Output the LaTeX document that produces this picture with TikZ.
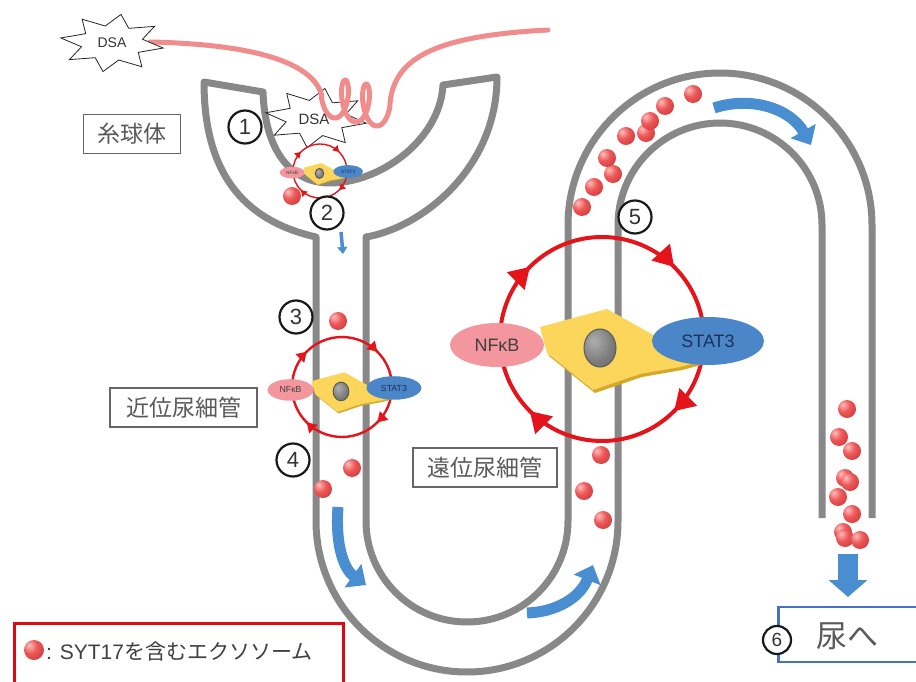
\documentclass[tikz,border=0pt]{standalone}
\usepackage{fontspec}
\setmainfont{Liberation Sans}
\newfontfamily\jpfont{Noto Sans CJK JP}
\usetikzlibrary{arrows.meta,decorations.markings,shapes.geometric}

\definecolor{tubegray}{RGB}{136,136,136}
\definecolor{vesselpink}{RGB}{240,140,140}
\definecolor{ringred}{RGB}{228,20,26}
\definecolor{flowblue}{RGB}{72,142,208}
\definecolor{cellyellow}{RGB}{252,214,90}
\definecolor{celledge}{RGB}{214,168,40}
\definecolor{nfpink}{RGB}{243,150,158}
\definecolor{statblue}{RGB}{74,134,200}
\definecolor{statink}{RGB}{30,50,85}
\definecolor{labelgray}{RGB}{90,90,90}
\definecolor{exohi}{RGB}{255,190,190}
\definecolor{exored}{RGB}{236,88,88}
\definecolor{exodark}{RGB}{196,42,42}
\definecolor{nuchi}{RGB}{175,175,175}
\definecolor{nucmid}{RGB}{125,125,125}
\definecolor{nucdark}{RGB}{85,85,85}
\definecolor{boxblue}{RGB}{68,114,196}
\definecolor{legendred}{RGB}{220,10,20}

% shaded spheres for exosomes and nuclei
\pgfdeclareradialshading{exoball}{\pgfpoint{-12bp}{12bp}}{%
  color(0bp)=(exohi); color(18bp)=(exored); color(48bp)=(exodark); color(100bp)=(exodark)}
\pgfdeclareradialshading{nucball}{\pgfpoint{-10bp}{10bp}}{%
  color(0bp)=(nuchi); color(25bp)=(nucmid); color(55bp)=(nucdark); color(100bp)=(nucdark)}

\newcommand\setfs[1]{\fontsize{#1}{#1}\selectfont}

% A cell wrapped in its red feedback ring (ring runs clockwise):
% #1 name prefix, #2 centre, #3 scale, #4 ring width, #5 tip scale
\newcommand\cellring[5]{%
  \begin{scope}[shift={#2}, scale=#3, transform shape]
    \draw[ringline, line width=#4, postaction={decorate, decoration={markings,
        mark=at position 0.125 with {\arrow[ringred]{Triangle[width=24pt,length=20pt,scale=#5]}},
        mark=at position 0.375 with {\arrow[ringred]{Triangle[width=24pt,length=20pt,scale=#5]}},
        mark=at position 0.625 with {\arrow[ringred]{Triangle[width=24pt,length=20pt,scale=#5]}},
        mark=at position 0.875 with {\arrow[ringred]{Triangle[width=24pt,length=20pt,scale=#5]}}}}]
      (102,0) .. controls (102,56.3) and (56.3,102) .. (0,102)
      .. controls (-56.3,102) and (-102,56.3) .. (-102,0)
      .. controls (-102,-56.3) and (-56.3,-102) .. (0,-102)
      .. controls (56.3,-102) and (102,-56.3) .. (102,0) -- cycle;
    \fill[celledge] (-60,-9) -- (7,-27) -- (57,1) -- (107,24) -- (80,31)
      -- (40,38) -- (-7,54) -- (-53,17) -- cycle;
    \fill[cellyellow] (-62,-12) -- (5,-30) -- (55,-2) -- (105,21) -- (78,28)
      -- (38,35) -- (-9,51) -- (-55,14) -- cycle;
    \node[nucleus] (#1nuc) at (-2,9) {};
    \node[nfbox] (#1nf) at (-105,6) {NFκB};
    \node[statbox] (#1st) at (106,2) {STAT3};
  \end{scope}}

\begin{document}
\begin{tikzpicture}[x=1pt, y=-1pt,
  tube/.style={draw=tubegray, line width=7pt, line join=round},
  vessel/.style={draw=vesselpink, line width=5pt, line cap=round, line join=round},
  burst/.style={draw=black!85, line width=0.8pt, fill=white, line join=miter},
  dsatext/.style={font=\setfs{14}, text=black!80},
  numcirc/.style={circle, draw=black!90, line width=2.2pt, fill=white,
    minimum size=33pt, inner sep=0pt, font=\setfs{22}, text=black!80},
  labelbox/.style={draw=black!60, line width=1.5pt, fill=white, text=labelgray,
    font=\jpfont\setfs{23}, minimum height=39pt, inner sep=0pt},
  exo/.style={circle, shading=exoball, minimum size=18pt, inner sep=0pt},
  flow/.style={draw=flowblue, line width=11pt, -{Triangle[width=28pt,length=16pt]}},
  ringline/.style={draw=ringred},
  nucleus/.style={ellipse, minimum width=32pt, minimum height=38pt, inner sep=0pt,
    shading=nucball, draw=black!65, line width=1pt},
  nfbox/.style={ellipse, minimum width=94pt, minimum height=44pt, inner sep=0pt,
    fill=nfpink, text=black!75, font=\setfs{18}},
  statbox/.style={ellipse, minimum width=112pt, minimum height=48pt, inner sep=0pt,
    fill=statblue, text=statink, font=\setfs{18}},
]
\fill[white] (0,0) rectangle (916,682);
\useasboundingbox (0,0) rectangle (916,682);

% nephron outline: glomerular cup, proximal tubule, loop, distal tubule, collecting duct
\draw[tube] (822,518) -- (822,225)
  .. controls (822,168.7) and (776.3,123) .. (720,123)
  .. controls (663.7,123) and (618,168.7) .. (618,225)
  -- (618,521)
  .. controls (618,604.4) and (550.4,672) .. (467,672)
  .. controls (383.6,672) and (316,604.4) .. (316,521)
  -- (316,237)
  .. controls (250,222) and (204,180) .. (204,82)
  -- (263,92)
  .. controls (265,150) and (290,183) .. (330,183)
  .. controls (380,183) and (440,140) .. (443,85)
  -- (497,77)
  .. controls (497,170) and (420,228) .. (366,237)
  -- (366,521)
  .. controls (366,576.8) and (411.2,622) .. (467,622)
  .. controls (522.8,622) and (568,576.8) .. (568,521)
  -- (568,225)
  .. controls (568,141.1) and (636.1,73) .. (720,73)
  .. controls (803.9,73) and (872,141.1) .. (872,225)
  -- (872,518);

% region labels
\node[labelbox, minimum width=97pt] (glom) at (132,134) {糸球体};
\node[labelbox, minimum width=147pt] (prox) at (183.5,407.5) {近位尿細管};
\node[labelbox, minimum width=144pt] (dist) at (485,467.5) {遠位尿細管};

% antibody inside the glomerulus
\draw[burst] plot[samples at={0,22.5,...,337.5}]
  ({316+51*(0.8+0.2*cos(8*\x))*cos(\x+10)}, {118+30*(0.8+0.2*cos(8*\x))*sin(\x+10)}) -- cycle;

% glomerular capillary with its tangle
\draw[vessel] (150,42) .. controls (240,44) and (312,58) .. (322,96)
  -- plot[domain=0.25:2.75, samples=140, smooth]
     ({324+21*\x-8*sin(360*\x)}, {96-20*cos(360*\x)+4*\x})
  .. controls (392,60) and (430,36) .. (548,30);
\node[dsatext, font=\setfs{15}] (dsaB) at (314,119) {DSA};

% circulating antibody
\draw[burst] plot[samples at={0,22.5,...,337.5}]
  ({112+52*(0.8+0.2*cos(8*\x))*cos(\x+10)}, {43+29*(0.8+0.2*cos(8*\x))*sin(\x+10)}) -- cycle;
\node[dsatext] (dsaA) at (112,43) {DSA};

% activated cells with NFkB / STAT3 loop
\cellring{glc}{(320,171)}{0.265}{1.4pt}{0.3}
\cellring{ptc}{(342,387)}{0.49}{2.4pt}{0.48}
\cellring{dtc}{(602,339)}{1}{4pt}{1}

% exosomes
\foreach \p [count=\i] in {(292,196),(338,321),(352,468),(323,489),
    (601,455),(584,491),(603,520),
    (582,207),(594,187),(613,174),(607,158),(626,136),(646,133),(650,121),(665,106),(693,94),
    (847,409),(839,437),(852,451),(845,478),(850,482),(838,497),(852,514),(843,532),(845,538),(860,540)}
  \node[exo] (ball\i) at \p {};

% flow direction
\coordinate (fA0) at (338,507); \coordinate (fA1) at (366,585);
\coordinate (fB0) at (527,613); \coordinate (fB1) at (593,565);
\coordinate (fC0) at (714,108); \coordinate (fC1) at (811,145);
\coordinate (fD0) at (341,232); \coordinate (fD1) at (343,254);
\coordinate (fE0) at (848,554); \coordinate (fE1) at (848,597);
\draw[flow] (fA0) .. controls (335,548) and (345,570) .. (fA1);
\draw[flow] (fB0) .. controls (556,612) and (580,598) .. (fB1);
\draw[flow] (fC0) .. controls (750,96) and (790,108) .. (fC1);
\draw[flow, line width=3.5pt, -{Triangle[width=10pt,length=7pt]}] (fD0) -- (fD1);
\draw[flow, line width=20pt, -{Triangle[width=38pt,length=17pt]}] (fE0) -- (fE1);

% urine box
\node[draw=boxblue, line width=2.5pt, minimum width=170pt, minimum height=55pt,
  anchor=west, inner sep=0pt] (urinebox) at (777,634.5) {};
\node[font=\jpfont\setfs{31}, text=labelgray] (urine) at (847,636) {尿へ};

% step numbers
\node[numcirc] (n1) at (245,127) {1};
\node[numcirc] (n2) at (327,213) {2};
\node[numcirc] (n3) at (296,317) {3};
\node[numcirc] (n4) at (293,460) {4};
\node[numcirc] (n5) at (635,217) {5};
\node[numcirc, minimum size=28pt, font=\setfs{19}] (n6) at (777,640) {6};

% legend
\node[draw=legendred, line width=2.5pt, minimum width=329pt, minimum height=80pt,
  anchor=north west, inner sep=0pt] (legend) at (13,622) {};
\node[exo, minimum size=20pt] (legball) at (34,650) {};
\node[anchor=west, font=\setfs{21}, text=black!75, inner sep=0pt] (legtext) at (46,652)
  {: SYT17{\jpfont を含むエクソソーム}};
\end{tikzpicture}
\end{document}
